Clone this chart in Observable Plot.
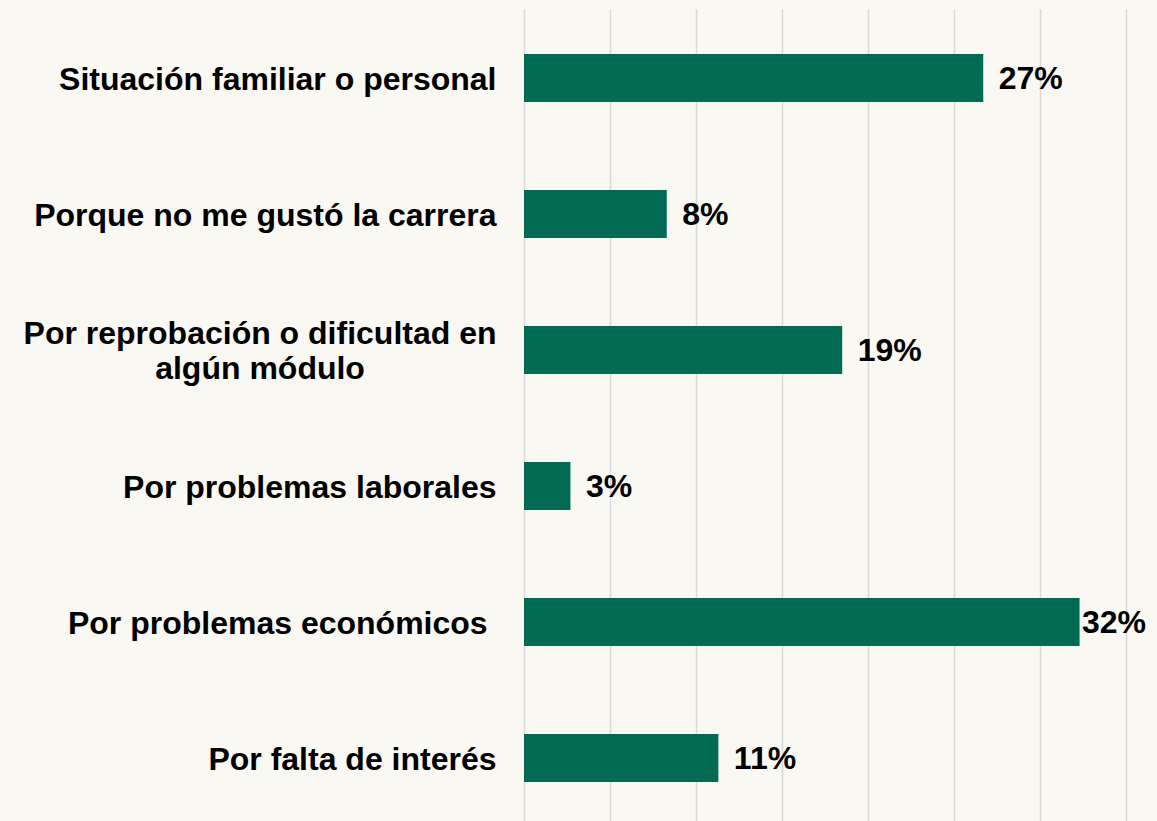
<!DOCTYPE html>
<html>
<head>
<meta charset="utf-8">
<script src="https://cdn.jsdelivr.net/npm/d3@7"></script>
<script src="https://cdn.jsdelivr.net/npm/@observablehq/plot@0.6"></script>
<style>
html, body { margin: 0; padding: 0; background: #faf8f3; }
#chart { width: 1157px; height: 821px; overflow: hidden; }
</style>
</head>
<body>
<div id="chart"></div>
<script>
const categories = [
  "Situación familiar o personal",
  "Porque no me gustó la carrera",
  "Por reprobación o dificultad en\nalgún módulo",
  "Por problemas laborales",
  "Por problemas económicos\u00a0",
  "Por falta de interés"
];
const values = [26.7, 8.3, 18.5, 2.7, 32.3, 11.3];
const xTicks = [0, 5, 10, 15, 20, 25, 30, 35];

const data = categories.map((c, i) => ({
  category: c,
  value: values[i],
  label: Math.round(values[i]) + "%"
}));

const FONT = "'Liberation Sans', Arial, sans-serif";

const chart = Plot.plot({
  width: 1157,
  height: 821,
  marginLeft: 524,
  marginRight: 31,
  marginTop: 9,
  marginBottom: -5,
  style: { background: "transparent", fontFamily: FONT, color: "#000", overflow: "visible" },
  x: { domain: [0, 35], axis: null },
  y: { domain: categories, paddingInner: 0.648, paddingOuter: 0.32, axis: null },
  marks: [
    Plot.ruleX(xTicks, { stroke: "#d9d9d9", strokeWidth: 1.5 }),
    Plot.barX(data, { y: "category", x: "value", fill: "#006a53" }),
    Plot.text(data, {
      y: "category", x: "value", text: "label", textAnchor: "start", dx: 15,
      fontSize: 32, fontWeight: "bold", fill: "#000", className: "vlab"
    }),
    Plot.text(categories, {
      y: d => d, text: d => d, frameAnchor: "left", dx: -28, textAnchor: "end",
      lineHeight: 1.1, fontSize: 32, fontWeight: "bold", fill: "#000", className: "ylab"
    })
  ]
});

document.getElementById("chart").appendChild(chart);

// Center the lines of multi-line category labels (right-aligned block)
chart.querySelectorAll("g.ylab text").forEach(t => {
  const spans = t.querySelectorAll("tspan");
  if (spans.length > 1) {
    let w = 0;
    spans.forEach(s => { w = Math.max(w, s.getComputedTextLength()); });
    t.setAttribute("text-anchor", "middle");
    const tr = t.getAttribute("transform") || "";
    t.setAttribute("transform", tr + ` translate(${-w / 2},0)`);
  }
});

// Keep value labels inside the chart
const svgRect = chart.getBoundingClientRect();
chart.querySelectorAll("g.vlab text").forEach(t => {
  const r = t.getBoundingClientRect();
  const right = r.right - svgRect.left;
  const limit = 1146;
  if (right > limit) {
    const tr = t.getAttribute("transform") || "";
    t.setAttribute("transform", tr + ` translate(${limit - right},0)`);
  }
});
</script>
</body>
</html>
